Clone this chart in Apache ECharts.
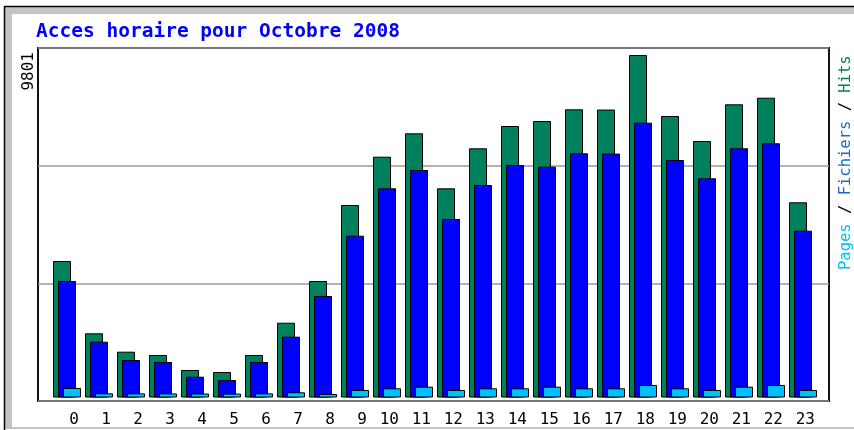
<!DOCTYPE html>
<html>
<head>
<meta charset="utf-8">
<script src="https://cdn.jsdelivr.net/npm/echarts@6/dist/echarts.min.js"></script>
<style>
html,body{margin:0;padding:0;background:#fff;}
#c{width:854px;height:430px;}
</style>
</head>
<body>
<div id="c"></div>
<script>
const titleText = 'Acces horaire pour Octobre 2008';
const hours = ['0','1','2','3','4','5','6','7','8','9','10','11','12','13','14','15','16','17','18','19','20','21','22','23'];
const hits  = [3906,1837,1311,1216,787,730,1216,2140,3334,5509,6891,7560,5986,7131,7769,7912,8247,8240,9801,8055,7340,8390,8579,5586];
const files = [3334,1597,1073,1016,595,501,1016,1740,2905,4630,5986,6510,5108,6081,6653,6605,6988,6980,7864,6796,6273,7131,7274,4773];
const pages = [272,120,118,116,114,112,118,149,100,215,263,309,215,263,263,309,263,263,358,263,215,309,358,215];
const yMax = 9801;
const legendParts = ['Pages', 'Fichiers', 'Hits'];

const colHits = '#00805c', colFiles = '#0000ff', colPages = '#00c0ff';
const mono = 'DejaVu Sans Mono';

const chart = echarts.init(document.getElementById('c'), null, {renderer: 'canvas'});
const barStyle = c => ({color: c, borderColor: '#000', borderWidth: 1});

chart.setOption({
  animation: false,
  backgroundColor: '#fff',
  title: {
    text: titleText, left: 36, top: 22, padding: 0,
    textStyle: {fontFamily: mono, fontSize: 19.5, fontWeight: 'bold', color: '#0000ff'}
  },
  graphic: [
    {type: 'rect', z: -10, shape: {x: 4, y: 6, width: 860, height: 423}, style: {fill: '#c4c4c4'}},
    {type: 'rect', z: -9, shape: {x: 12, y: 14, width: 850, height: 413}, style: {fill: '#fff'}},
    {type: 'line', z: -8, shape: {x1: 4.5, y1: 6, x2: 4.5, y2: 430}, style: {stroke: '#000', lineWidth: 1.5}},
    {type: 'line', z: -8, shape: {x1: 4, y1: 6.5, x2: 854, y2: 6.5}, style: {stroke: '#000', lineWidth: 1.5}},
    {type: 'text', x: 37, y: 52, rotation: Math.PI / 2,
     style: {text: String(yMax), fontFamily: mono, fontSize: 16, fill: '#000', align: 'right', verticalAlign: 'bottom'}},
    {type: 'text', x: 846, y: 270, rotation: Math.PI / 2,
     style: {
       text: '{p|' + legendParts[0] + '} / {f|' + legendParts[1] + '} / {h|' + legendParts[2] + '}',
       fontFamily: mono, fontSize: 15.5, fill: '#000', align: 'left', verticalAlign: 'middle',
       rich: {
         p: {fontFamily: mono, fontSize: 15.5, fill: colPages, color: colPages},
         f: {fontFamily: mono, fontSize: 15.5, fill: '#1a6acc', color: '#1a6acc'},
         h: {fontFamily: mono, fontSize: 15.5, fill: colHits, color: colHits}
       }
     }}
  ],
  grid: [
    {left: 51, width: 768, top: 55, bottom: 32.5, containLabel: false},
    {left: 38, width: 791, top: 48, height: 353, show: true, borderColor: '#111', borderWidth: 2, backgroundColor: 'transparent'}
  ],
  xAxis: [
    {type: 'category', gridIndex: 0, data: hours,
     axisLine: {show: false}, axisTick: {show: false}, splitLine: {show: false},
     axisLabel: {margin: 14, interval: 0, fontFamily: mono, fontSize: 16, color: '#000',
       formatter: v => '{a|' + v + '}',
       rich: {a: {width: 24, align: 'right', fontFamily: mono, fontSize: 16, color: '#000'}}}},
    {type: 'value', gridIndex: 1, show: false, min: 0, max: 1}
  ],
  yAxis: [
    {type: 'value', gridIndex: 0, min: 0, max: yMax, interval: yMax,
     axisLine: {show: false}, axisTick: {show: false}, splitLine: {show: false},
     axisLabel: {show: false}},
    {type: 'value', gridIndex: 1, min: 0, max: 3, interval: 1,
     axisLine: {show: false}, axisTick: {show: false}, axisLabel: {show: false},
     splitLine: {show: true, lineStyle: {color: '#9a9a9a', width: 1.5}}}
  ],
  series: [
    {type: 'bar', name: 'Hits', xAxisIndex: 0, yAxisIndex: 0, data: hits, barWidth: 18, barGap: '-72.2%', itemStyle: barStyle(colHits)},
    {type: 'bar', name: 'Fichiers', xAxisIndex: 0, yAxisIndex: 0, data: files, barWidth: 18, barGap: '-72.2%', itemStyle: barStyle(colFiles)},
    {type: 'bar', name: 'Pages', xAxisIndex: 0, yAxisIndex: 0, data: pages, barWidth: 18, barGap: '-72.2%', itemStyle: barStyle(colPages)}
  ]
});
</script>
</body>
</html>
